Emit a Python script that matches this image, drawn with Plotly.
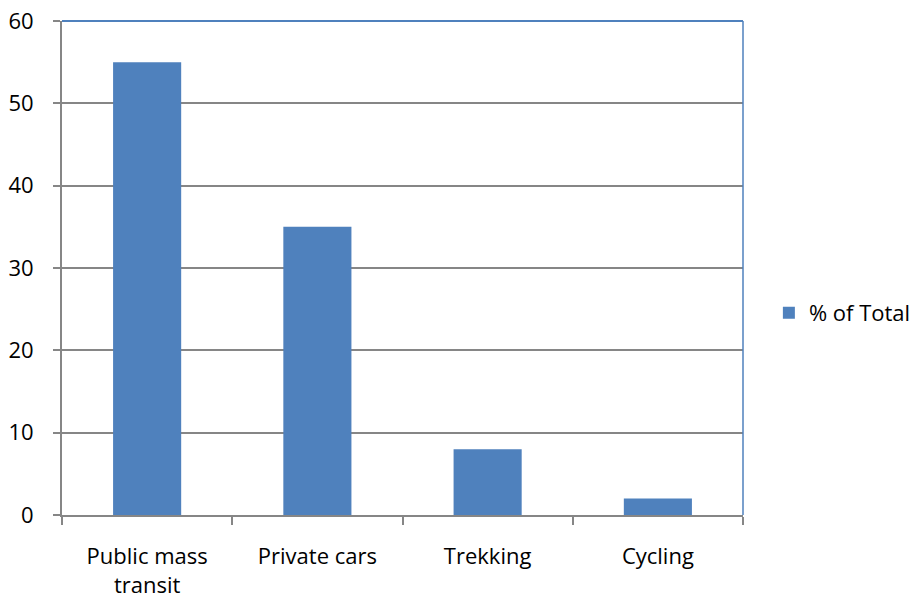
import plotly.graph_objects as go

categories = ["Public mass<br>transit", "Private cars", "Trekking", "Cycling"]
values = [55, 35, 8, 2]
series_name = "% of Total"
y_ticks = [0, 10, 20, 30, 40, 50, 60]

BLUE = "#4F81BD"
GRAY = "#868686"
FONT = "'Open Sans', sans-serif"
FS = 22

fig = go.Figure()
fig.add_trace(go.Bar(x=categories, y=values, name=series_name,
                     marker=dict(color=BLUE, line=dict(width=0))))

fig.update_layout(
    width=915, height=600,
    margin=dict(l=62, r=172, t=21, b=85, autoexpand=False),
    paper_bgcolor="white", plot_bgcolor="white",
    bargap=0.6,
    showlegend=True,
    font=dict(family=FONT, size=FS, color="#000000"),
    legend=dict(x=1.038, y=0.409, xanchor="left", yanchor="middle",
                font=dict(family=FONT, size=FS, color="#000000"),
                itemwidth=30),
)
fig.update_yaxes(range=[0, 60], tickvals=y_ticks, showgrid=True,
                 gridcolor=GRAY, gridwidth=2,
                 showline=True, linecolor=GRAY, linewidth=2,
                 ticks="outside", ticklen=7, tickcolor=GRAY, tickwidth=2,
                 ticklabelstandoff=15, zeroline=False, automargin=False,
                 tickfont=dict(family=FONT, size=FS))
fig.update_xaxes(showline=True, linecolor=GRAY, linewidth=2,
                 ticks="outside", ticklen=8, tickcolor=GRAY, tickwidth=2,
                 tickson="boundaries", ticklabelstandoff=21, automargin=False,
                 tickfont=dict(family=FONT, size=FS))

# blue top and right plot-area border
fig.add_shape(type="line", xref="paper", yref="paper", x0=0, x1=1, y0=1, y1=1,
              line=dict(color=BLUE, width=2))
fig.add_shape(type="line", xref="paper", yref="paper", x0=1, x1=1, y0=0, y1=1,
              line=dict(color=BLUE, width=1.5))

fig.write_html("out.html",
               config={"displayModeBar": False, "staticPlot": True},
               post_script="document.body.style.margin='0px';document.body.style.overflow='hidden';")
